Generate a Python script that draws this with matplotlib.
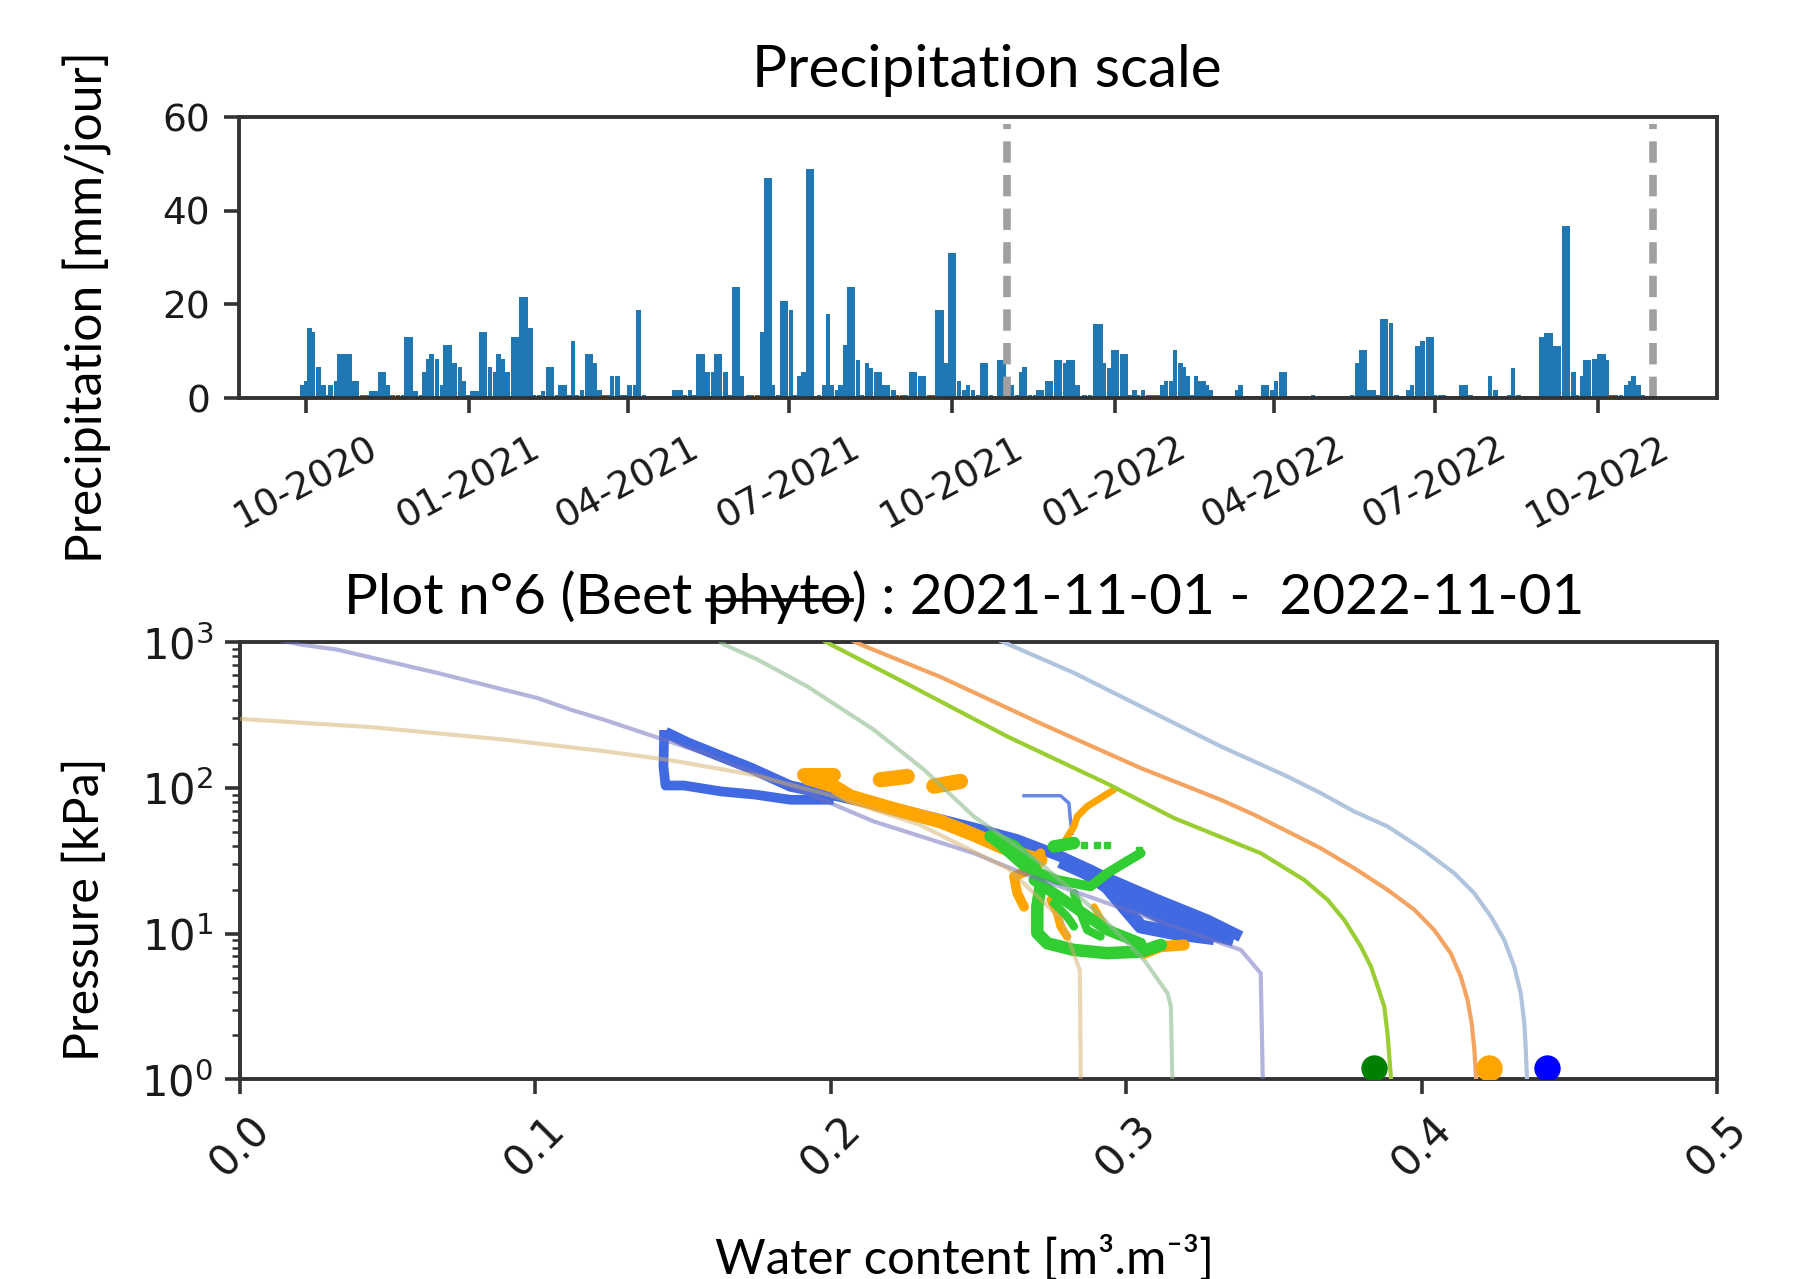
import numpy as np
import matplotlib
matplotlib.use("Agg")
import matplotlib.pyplot as plt
import matplotlib.dates as mdates
from matplotlib.lines import Line2D

W, H = 1799, 1279
start = np.datetime64("2020-10-01")
season_marks = ["2021-11-01", "2022-11-01"]

# daily rain: (days after 2020-10-01, mm/jour)
rain_year1 = [
    (-2, 2.7), (0, 3.6), (2, 15.0), (4, 14.0), (7, 6.6), (10, 2.7), (12, 0.7), (14, 2.7), (17, 3.6),
    (19, 9.3), (21, 9.3), (23, 9.3), (25, 9.3), (27, 3.6), (29, 3.6), (32, 0.7), (35, 0.7), (37, 1.6),
    (40, 1.6), (42, 5.5), (44, 5.5), (46, 2.7), (49, 0.7), (52, 0.7), (55, 0.7), (57, 13.0), (59, 13.0),
    (62, 1.6), (65, 0.7), (67, 5.5), (69, 8.4), (71, 9.3), (74, 8.4), (77, 2.7), (79, 11.4), (81, 11.4),
    (84, 7.5), (87, 6.6), (89, 3.6), (92, 0.7), (94, 1.6), (97, 1.6), (99, 14.0), (101, 14.0), (104, 6.6),
    (107, 5.5), (109, 9.3), (111, 8.4), (114, 5.5), (117, 13.0), (119, 13.0), (122, 21.6), (124, 21.6),
    (127, 15.0), (129, 0.7), (132, 0.7), (134, 1.6), (137, 6.6), (139, 6.6), (142, 0.7), (144, 2.7),
    (146, 2.7), (149, 0.7), (151, 12.1), (153, 0.7), (156, 1.7), (159, 9.3), (161, 9.3), (163, 7.5),
    (166, 1.7), (168, 0.7), (171, 0.7), (173, 4.6), (176, 4.6), (178, 0.7), (180, 0.7), (183, 2.7),
    (186, 2.7), (188, 18.8), (191, 0.7), (194, 0.5), (197, 0.5), (200, 0.5), (203, 0.5), (206, 0.5),
    (208, 1.7), (210, 1.7), (212, 1.7), (214, 0.7), (217, 1.7), (219, 0.7), (222, 9.3), (224, 9.3),
    (227, 5.5), (230, 5.5), (232, 9.3), (234, 9.3), (237, 5.5), (240, 0.7), (242, 23.6), (244, 23.6),
    (246, 4.6), (250, 0.7), (252, 0.7), (255, 0.7), (258, 14.0), (260, 47.0), (262, 47.0), (264, 2.7),
    (267, 0.7), (269, 20.7), (271, 20.7), (274, 18.8), (276, 0.7), (279, 4.6), (281, 5.5), (284, 49.0),
    (286, 49.0), (290, 0.7), (293, 2.7), (295, 17.9), (297, 2.7), (300, 1.7), (302, 2.7), (305, 11.4),
    (307, 23.6), (309, 23.6), (312, 8.2), (314, 0.7), (317, 7.4), (319, 6.4), (322, 5.5), (324, 5.5),
    (327, 2.7), (329, 2.7), (332, 1.7), (334, 0.7), (337, 0.7), (339, 0.7), (342, 5.5), (344, 5.5),
    (347, 4.6), (349, 4.6), (352, 0.7), (354, 0.7), (357, 18.8), (359, 18.8), (362, 7.4), (364, 31.0),
    (366, 31.0),
]
rain_year2 = [
    (369, 3.6), (372, 1.7), (374, 2.7), (377, 1.7), (380, 0.7), (382, 7.4), (384, 7.4), (387, 0.7),
    (392, 8.2), (394, 8.2), (397, 0.7), (399, 2.7), (402, 0.7), (404, 5.5), (406, 6.6), (409, 0.7),
    (412, 0.7), (414, 1.7), (416, 1.7), (419, 3.6), (421, 3.6), (424, 8.2), (426, 8.2), (429, 7.4),
    (431, 8.2), (433, 8.2), (436, 2.7), (440, 0.7), (443, 0.7), (446, 15.7), (449, 15.7), (451, 7.4),
    (454, 6.4), (456, 10.2), (458, 10.2), (461, 9.3), (463, 9.3), (466, 0.7), (468, 1.7), (470, 0.7),
    (473, 1.7), (476, 0.7), (479, 0.7), (481, 0.7), (484, 2.7), (486, 3.6), (489, 3.6), (491, 10.2),
    (494, 7.4), (496, 6.6), (498, 4.6), (501, 0.7), (503, 4.6), (505, 3.6), (507, 3.6), (509, 2.7),
    (511, 1.7), (514, 0.5), (517, 0.5), (520, 0.5), (523, 0.5), (526, 1.7), (528, 2.7), (531, 0.5),
    (534, 0.5), (537, 0.5), (541, 2.7), (543, 2.7), (546, 1.7), (548, 3.6), (551, 5.5), (553, 5.5),
    (556, 0.5), (559, 0.5), (562, 0.5), (565, 0.5), (569, 0.7), (573, 0.5), (576, 0.5), (579, 0.5),
    (582, 0.5), (585, 0.5), (588, 0.5), (591, 0.7), (594, 7.4), (596, 10.2), (598, 10.2), (601, 1.7),
    (603, 1.7), (606, 0.7), (608, 16.8), (610, 16.8), (613, 16.1), (616, 0.7), (619, 0.5), (623, 1.7),
    (625, 2.7), (628, 11.2), (631, 12.1), (634, 13.0), (636, 13.0), (638, 0.7), (641, 0.7), (643, 0.7),
    (646, 0.5), (650, 0.5), (653, 2.7), (655, 2.7), (658, 0.7), (662, 0.5), (665, 0.5), (669, 4.6),
    (672, 1.7), (676, 0.5), (680, 0.7), (682, 6.4), (685, 0.7), (689, 0.5), (693, 0.5), (698, 13.0),
    (701, 13.9), (703, 13.9), (706, 11.2), (708, 11.2), (711, 36.8), (713, 36.8), (716, 5.5), (718, 0.7),
    (721, 4.6), (723, 8.2), (725, 8.2), (728, 8.4), (731, 9.3), (733, 9.3), (735, 8.2), (737, 0.7),
    (740, 0.7), (743, 0.7), (746, 2.7), (748, 3.6), (750, 4.6), (753, 2.7), (755, 0.7), (758, 0.5),
]

# retention curves (water content, pressure kPa)
lav_theta = [0.000, 0.0205, 0.0330, 0.0522, 0.0668, 0.0894, 0.1007, 0.1120, 0.1233, 0.1402, 0.1571,
             0.1684, 0.1920, 0.2146, 0.2484, 0.265, 0.29, 0.315, 0.3388, 0.3455, 0.3462]
lav_kpa = [1175, 966, 891, 723, 617, 473, 415, 345, 294, 226, 174,
           141, 92, 58.9, 35.7, 26.0, 17.2, 11.4, 7.73, 5.35, 1.0]
tan_theta = [0.0, 0.0442, 0.0894, 0.1233, 0.1458, 0.174, 0.2, 0.23, 0.26, 0.278, 0.2843, 0.2846]
tan_kpa = [298, 262, 215, 179, 155, 123, 89, 56, 28, 12.6, 5.6, 1.0]
sea_theta = [0.160, 0.1639, 0.1752, 0.192, 0.2146, 0.2315, 0.2484, 0.27, 0.29, 0.306, 0.314, 0.3151, 0.3156]
sea_kpa = [1122, 966, 762, 499, 251, 134, 63.8, 31.6, 14.1, 6.61, 3.89, 3.16, 1.0]
ygreen_theta = [0.196, 0.2, 0.2259, 0.2597, 0.2936, 0.3162, 0.3455, 0.3602, 0.3681, 0.3738, 0.3794,
                0.3828, 0.3851, 0.3873, 0.3884, 0.3896]
ygreen_kpa = [1072, 966, 518, 226, 107, 62.1, 35.7, 23.4, 17.1, 12.4, 8.15,
              5.94, 4.33, 3.16, 2.07, 1.0]
sandy_theta = [0.205, 0.2101, 0.2372, 0.2711, 0.3049, 0.3320, 0.3433, 0.3545, 0.3658, 0.3771, 0.3884,
               0.3975, 0.4042, 0.4098, 0.4132, 0.4155, 0.4169, 0.4178, 0.4184]
sandy_kpa = [1086, 966, 578, 277, 137, 83.0, 65.5, 50.4, 38.6, 28.2, 20.0,
             14.6, 10.6, 7.33, 5.07, 3.50, 2.42, 1.59, 1.0]
steel_theta = [0.254, 0.2586, 0.2823, 0.3162, 0.3320, 0.3433, 0.3545, 0.3658, 0.3771, 0.3884, 0.3997,
               0.4110, 0.4177, 0.4234, 0.4279, 0.4313, 0.4335, 0.4347, 0.4352, 0.4356]
steel_kpa = [1096, 1000, 617, 279, 193, 152, 120, 92.3, 69.0, 54.5, 38.6,
             26.0, 19.0, 13.1, 9.06, 5.94, 3.90, 2.42, 1.59, 1.0]

# sensor trajectories (water content, pressure kPa)
blue_theta = [
    [0.1441, 0.1515, 0.1628, 0.1729, 0.1864, 0.2033, 0.2259, 0.2484, 0.2631, 0.2778, 0.2936, 0.3105, 0.3275, 0.3388],
    [0.1436, 0.1436, 0.1434, 0.1441, 0.1504, 0.1628, 0.1746, 0.1864, 0.2010],
    [0.2778, 0.2879, 0.2992, 0.3105, 0.3218, 0.3365],
    [0.2925, 0.2992, 0.3049, 0.3162, 0.3297],
    [0.2850, 0.3000, 0.3150, 0.3300],
]
blue_kpa = [
    [241, 204, 165, 137, 103, 87.5, 69.0, 53.1, 44.1, 33.9, 24.0, 17.1, 12.4, 9.55],
    [250, 215, 141, 104, 104, 94.8, 90.0, 83.0, 83.0],
    [32.1, 26.0, 19.0, 13.8, 11.2, 9.31],
    [22.2, 15.3, 11.2, 10.1, 9.31],
    [27.0, 17.0, 12.0, 9.8],
]
blue_trace_theta = [0.2654, 0.2710, 0.2778, 0.2806, 0.2811, 0.2817]
blue_trace_kpa = [88.5, 88.5, 88.5, 78.7, 60.5, 49.0]

orange_theta = [
    [0.1909, 0.2010],
    [0.1920, 0.2010, 0.2067, 0.2202, 0.2372, 0.2484, 0.2575, 0.2665, 0.2710],
    [0.2168, 0.2259],
    [0.2349, 0.2439],
    [0.2795, 0.2823, 0.2834, 0.2868, 0.2913, 0.2958],
    [0.2710, 0.2699, 0.2620, 0.2631, 0.2654],
    [0.2744, 0.2766, 0.2778, 0.2800],
    [0.3060, 0.3117, 0.3196],
    [0.2891, 0.2936],
]
orange_kpa = [
    [123, 123],
    [117, 103, 87.5, 72.8, 58.9, 47.8, 39.7, 33.9, 32.1],
    [114, 120],
    [103, 111],
    [44.1, 54.5, 63.8, 74.8, 85.3, 97.3],
    [35.7, 28.9, 24.7, 19.0, 15.3],
    [17.1, 13.8, 11.2, 9.55],
    [7.35, 8.15, 8.37],
    [15.3, 10.6],
]

green_theta = [
    [0.2541, 0.2620, 0.2688, 0.2710, 0.2699, 0.2699, 0.2733, 0.2823, 0.2936, 0.3049, 0.3117],
    [0.2552, 0.2654, 0.2766, 0.2879, 0.2936, 0.2992, 0.3049],
    [0.2755, 0.2823],
    [0.2823, 0.2846, 0.2868, 0.2913],
    [0.2755, 0.2800, 0.2823],
    [0.2688, 0.2823, 0.2936, 0.3049],
]
green_kpa = [
    [46.5, 39.7, 28.9, 21.1, 15.3, 10.1, 8.59, 7.73, 7.35, 7.53, 8.37],
    [44.1, 28.9, 23.4, 21.1, 26.0, 30.5, 35.7],
    [39.7, 41.9],
    [19.0, 13.8, 10.6, 9.55],
    [16.2, 13.1, 11.2],
    [23.4, 15.3, 10.6, 8.59],
]
green_dots_theta = [0.2857, 0.2902, 0.2936, 0.3004, 0.3043]
green_dots_kpa = [40.7, 40.7, 40.7, 32.1, 37.7]

sat_theta = [0.3839, 0.4226, 0.4423]
sat_kpa = [1.19, 1.19, 1.19]
sat_colors = ["green", "orange", "blue"]

# line widths for the trajectories (style only)
blue_lw = [8, 7, 12, 10, 9]
orange_lw = [10, 10, 11, 11, 5, 7, 6, 8, 5]
green_lw = [9, 7, 9, 6, 6, 8]

FONT = ["Lato", "DejaVu Sans"]
EDGE = "#333333"

fig = plt.figure(figsize=(W / 100, H / 100), dpi=100)
ax1 = fig.add_axes([0.1331, 0.6888, 0.8214, 0.2197])
ax2 = fig.add_axes([0.1332, 0.1561, 0.8214, 0.3417])

for ax in (ax1, ax2):
    for sp in ax.spines.values():
        sp.set_linewidth(2.8)
        sp.set_color(EDGE)
    ax.tick_params(which="major", length=11, width=2.6, labelsize=27, pad=10,
                   color=EDGE, labelcolor="#1a1a1a")
    ax.tick_params(which="minor", length=6, width=1.8, color=EDGE)
ax1.tick_params(axis="x", which="major", pad=12)
ax2.tick_params(axis="y", which="major", labelsize=30, pad=8)
ax2.tick_params(axis="x", which="major", labelsize=30)

# --- precipitation
rain = rain_year1 + rain_year2
days = np.array([d for d, _ in rain])
mm = np.array([v for _, v in rain])
dates = start + days.astype("timedelta64[D]")
ax1.bar(dates, mm, width=2.6, color="#1f77b4", linewidth=0)
for d in season_marks:
    ax1.axvline(np.datetime64(d), ymin=0, ymax=0.975, color="#a0a0a0", lw=5.5,
                ls=(0, (2.8, 1.6)))
ax1.set_ylim(0, 60)
ax1.set_yticks([0, 20, 40, 60])
ax1.set_xlim(mdates.date2num(start) - 37.5, mdates.date2num(start) + 797.3)
ax1.xaxis.set_major_locator(mdates.MonthLocator(bymonth=[1, 4, 7, 10]))
ax1.xaxis.set_major_formatter(mdates.DateFormatter("%m-%Y"))
plt.setp(ax1.get_xticklabels(), rotation=28, ha="center")

# --- retention curves
curves = [
    (lav_theta, lav_kpa, "#7070bf", 0.53),
    (tan_theta, tan_kpa, "#d4b06a", 0.5),
    (sea_theta, sea_kpa, "#8fbc8f", 0.6),
    (ygreen_theta, ygreen_kpa, "#9acd32", 1.0),
    (sandy_theta, sandy_kpa, "#f4a460", 1.0),
    (steel_theta, steel_kpa, "#b0c4de", 1.0),
]
for th, kpa, col, a in curves:
    ax2.plot(th, kpa, color=col, alpha=a, lw=3, zorder=3, solid_joinstyle="round")

for th, kpa, lw in zip(blue_theta, blue_kpa, blue_lw):
    ax2.plot(th, kpa, color="royalblue", lw=lw, solid_capstyle="butt", zorder=2)
ax2.plot(blue_trace_theta, blue_trace_kpa, color="royalblue", lw=2.5, alpha=0.8, zorder=2)
for th, kpa, lw in zip(orange_theta, orange_kpa, orange_lw):
    ax2.plot(th, kpa, color="orange", lw=lw, solid_capstyle="round", zorder=2.1)
for th, kpa, lw in zip(green_theta, green_kpa, green_lw):
    ax2.plot(th, kpa, color="limegreen", lw=lw, solid_capstyle="round", zorder=2.2)
ax2.plot(green_dots_theta, green_dots_kpa, "s", color="limegreen", ms=4, zorder=2.2)

for th, kpa, col in zip(sat_theta, sat_kpa, sat_colors):
    ax2.plot(th, kpa, "o", color=col, ms=18, zorder=4)

ax2.set_yscale("log")
ax2.set_ylim(1, 1000)
ax2.set_xlim(0, 0.5)
ax2.set_xticks([0.0, 0.1, 0.2, 0.3, 0.4, 0.5])
plt.setp(ax2.get_xticklabels(), rotation=45, ha="center")

# --- texts sized to the reference
renderer = fig.canvas.get_renderer()


def fit_text(x, y, s, length, rotation=0, **kw):
    t = fig.text(x / W, 1 - y / H, s, fontsize=40, rotation=rotation, family=FONT, **kw)
    bb = t.get_window_extent(renderer)
    size = bb.height if rotation == 90 else bb.width
    t.set_fontsize(40 * length / size)
    return t


fit_text(987, 87, "Precipitation scale", 470, ha="center", va="baseline")
fit_text(87, 307, "Precipitation [mm/jour]", 511, rotation=90, ha="center", va="center")
fit_text(84.5, 909, "Pressure [kPa]", 304, rotation=90, ha="center", va="center")
fit_text(964.5, 1274, "Water content [m\u00b3.m\u207b\u00b3]", 499, ha="center", va="baseline")

title_left, title_base = 344, 614
prefix = "Plot n\u00b06 (Beet "
t2 = fit_text(title_left, title_base, prefix + "phyto) : 2021-11-01 -  2022-11-01", 1241,
              ha="left", va="baseline")
fs = t2.get_fontsize()
probe = fig.text(0, 0, prefix + "phyto", fontsize=fs, family=FONT)
w_all = probe.get_window_extent(renderer).width
probe.set_text("phyto")
w_word = probe.get_window_extent(renderer).width
probe.remove()
y_strike = title_base - 0.25 * fs * 100 / 72
x0 = title_left + w_all - w_word
x1 = title_left + w_all
fig.add_artist(Line2D([x0 / W, x1 / W], [1 - y_strike / H, 1 - y_strike / H],
                      transform=fig.transFigure, color="black", lw=2.6))

fig.savefig("out.png", dpi=100)
